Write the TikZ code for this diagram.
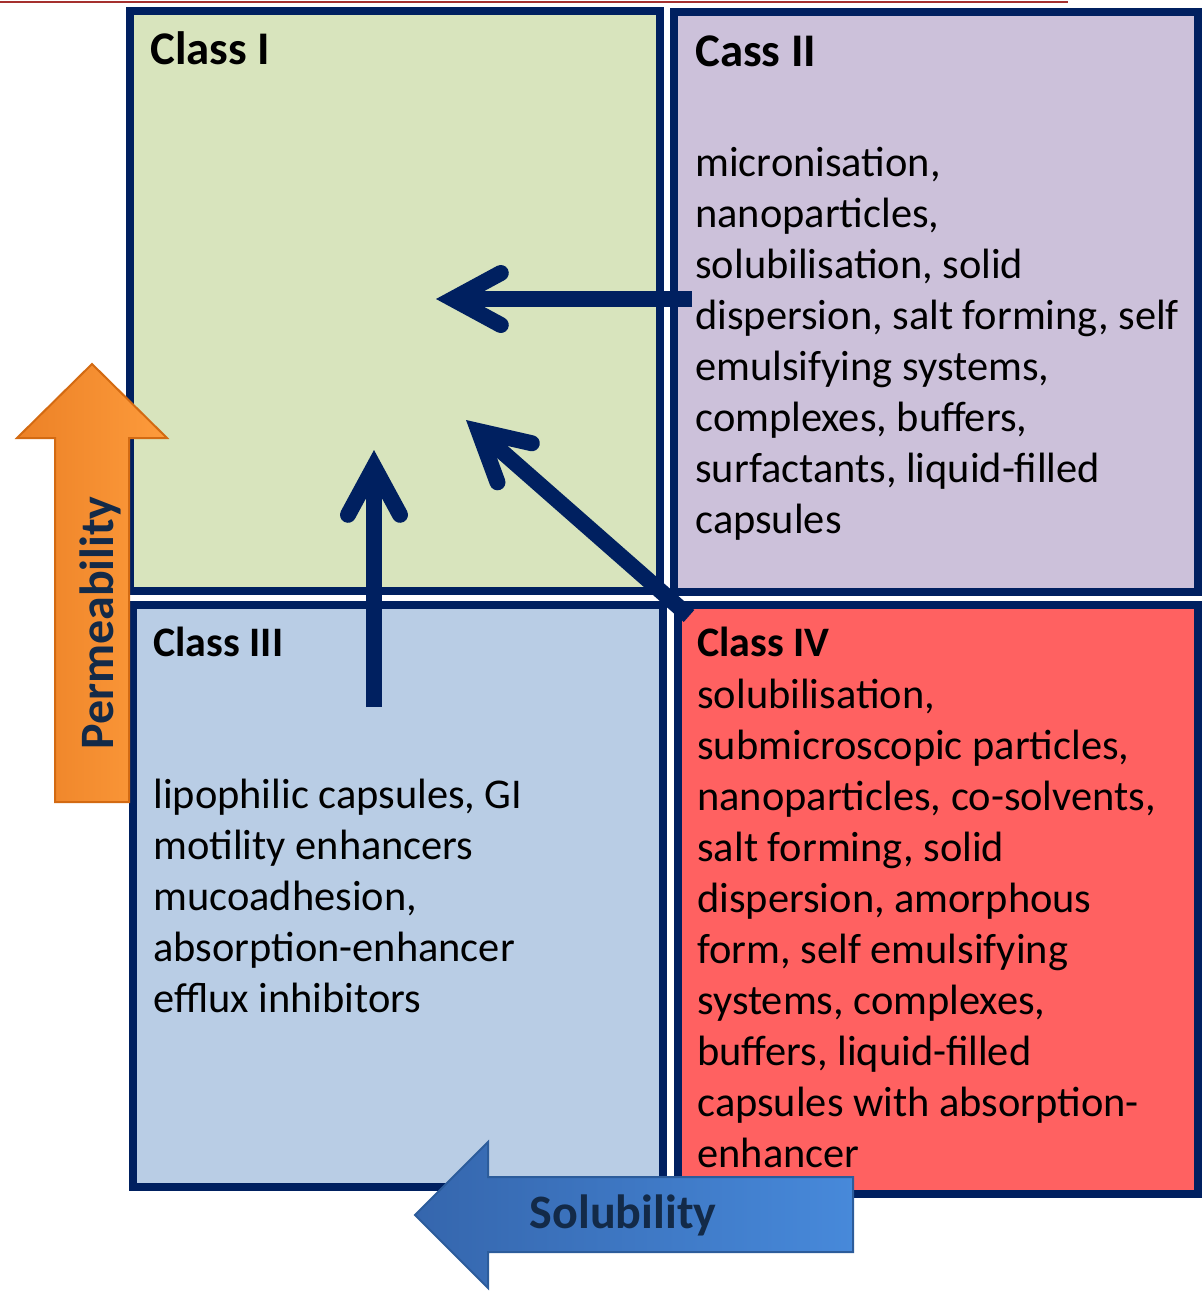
\documentclass[tikz,border=0pt]{standalone}
\usepackage{fontspec}
\setmainfont{Carlito}
\usetikzlibrary{arrows.meta,positioning}

\definecolor{navy}{HTML}{002060}
\definecolor{classone}{HTML}{D8E4BD}
\definecolor{classtwo}{HTML}{CCC1DA}
\definecolor{classthree}{HTML}{B9CDE5}
\definecolor{classfour}{HTML}{FF6161}
\definecolor{permdark}{HTML}{EC8126}
\definecolor{permlight}{HTML}{FD9B3C}
\definecolor{permedge}{HTML}{D36A12}
\definecolor{soldark}{HTML}{3566AD}
\definecolor{sollight}{HTML}{4789DA}
\definecolor{soledge}{HTML}{2C5C9B}
\definecolor{labelnavy}{HTML}{132A48}
\definecolor{topred}{HTML}{A5302E}

\tikzset{
  classbox/.style={draw=navy,line width=4pt,inner sep=0pt,outer sep=0pt},
  bigtitle/.style={anchor=base west,inner sep=0pt,font=\bfseries\fontsize{23.4}{28}\selectfont},
  smalltitle/.style={anchor=base west,inner sep=0pt,font=\bfseries\fontsize{21}{25.5}\selectfont},
  % placed at the baseline of the last line
  bodytext/.style={anchor=base west,inner sep=0pt,align=left,font=\fontsize{21.2}{25.5}\selectfont},
  moveto/.style={draw=navy,line width=8pt,-{Straight Barb[length=24pt,width=26pt,line cap=round]}},
  axislabel/.style={inner sep=0pt,text=labelnavy,font=\bfseries\fontsize{24}{28}\selectfont}
}

\begin{document}
\begin{tikzpicture}[x=0.5pt,y=-0.5pt]
  \useasboundingbox (0,0) rectangle (1202,1291);

  % red rule at the top
  \draw[topred,line width=1pt] (0,1.5) -- (1068,1.5);

  % Class boxes
  \node[classbox,fill=classone,minimum width=265pt,minimum height=290pt] (classI) at (395,301) {};
  \node[classbox,fill=classtwo,minimum width=262pt,minimum height=290pt] (classII) at (936,302) {};
  \node[classbox,fill=classthree,minimum width=265pt,minimum height=291pt] (classIII) at (398,896) {};
  \node[classbox,fill=classfour,minimum width=260pt,minimum height=294.5pt] (classIV) at (938,899.5) {};

  % Titles
  \node[bigtitle] (titleI) at (150,64) {Class I};
  \node[bigtitle] (titleII) at (695,66) {Cass II};
  \node[smalltitle] (titleIII) at (153,656) {Class III};
  \node[smalltitle] (titleIV) at (697,656) {Class IV};

  % Texts
  \node[bodytext] (textII) at (695,533) {micronisation,\\nanoparticles,\\solubilisation, solid\\dispersion, salt forming, self\\emulsifying systems,\\complexes, buffers,\\surfactants, liquid-filled\\capsules};
  \node[bodytext] (textIII) at (153,1012) {lipophilic capsules, GI\\motility enhancers\\mucoadhesion,\\absorption-enhancer\\efflux inhibitors};
  \node[bodytext] (textIV) at (697,1167) {solubilisation,\\submicroscopic particles,\\nanoparticles, co-solvents,\\salt forming, solid\\dispersion, amorphous\\form, self emulsifying\\systems, complexes,\\buffers, liquid-filled\\capsules with absorption-\\enhancer};

  % Arrow ends
  \coordinate (fromII) at (692,299);
  \coordinate (toIfromII) at (436,299);
  \coordinate (fromIII) at (374,707);
  \coordinate (toIfromIII) at (374,450);
  \coordinate (fromIV) at (689,616);
  \coordinate (toIfromIV) at (466,420);

  % Moves towards Class I
  \draw[moveto] (fromII) -- (toIfromII);
  \draw[moveto] (fromIII) -- (toIfromIII);
  \draw[moveto] (fromIV) -- (toIfromIV);

  % Permeability
  \draw[permedge,line width=1pt,left color=permdark,right color=permlight]
    (55,802) -- (55,438) -- (17,438) -- (92,364) -- (167,438) -- (129,438) -- (129,802) -- cycle;
  \node[axislabel,rotate=90] (perm) at (100,623) {Permeability};

  % Solubility
  \draw[soledge,line width=1pt,left color=soldark,right color=sollight]
    (853,1177) -- (488,1177) -- (488,1142) -- (415,1215) -- (488,1288) -- (488,1252) -- (853,1252) -- cycle;
  \node[axislabel] (sol) at (623,1215) {Solubility};
\end{tikzpicture}
\end{document}
